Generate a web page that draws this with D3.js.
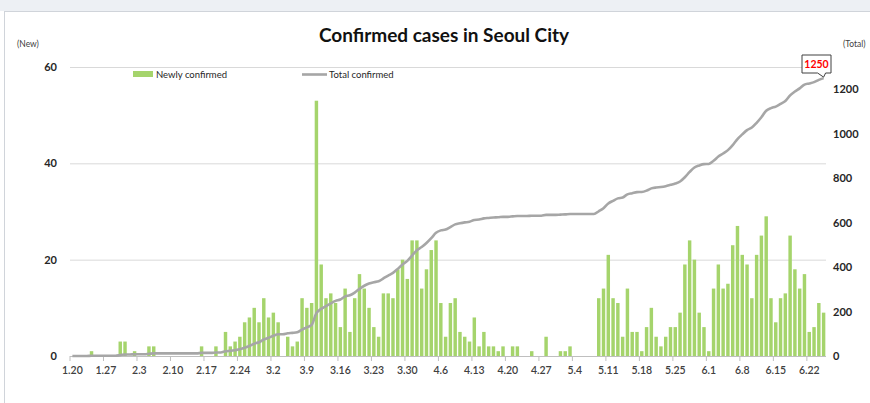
<!DOCTYPE html>
<html>
<head>
<meta charset="utf-8">
<script src="https://cdnjs.cloudflare.com/ajax/libs/d3/7.8.5/d3.min.js"></script>
<style>
  body { margin: 0; background: #fff; }
  svg text { font-family: Lato, "Liberation Sans", sans-serif; }
</style>
</head>
<body>
<div class="visHolder"></div>
<script>
// daily new cases, 1.20 .. 6.25 (one value per day)
var newCases = [
  0, 0, 0, 0, 1, 0, 0, 0, 0, 0,
  3, 3, 0, 1, 0, 0, 2, 2, 0, 0,
  0, 0, 0, 0, 0, 0, 0, 2, 0, 0,
  2, 0, 5, 2, 3, 4, 7, 8, 10, 7,
  12, 8, 9, 7, 0, 4, 2, 3, 12, 10,
  11, 53, 19, 12, 13, 11, 6, 14, 5, 12,
  17, 14, 10, 6, 4, 13, 13, 12, 18, 20,
  16, 24, 24, 14, 18, 22, 24, 11, 4, 11,
  12, 5, 4, 3, 8, 2, 5, 2, 2, 1,
  2, 0, 2, 2, 0, 0, 1, 0, 0, 4,
  0, 0, 1, 1, 2, 0, 0, 0, 0, 0,
  12, 14, 21, 12, 11, 4, 14, 5, 5, 1,
  6, 10, 4, 2, 4, 6, 6, 9, 19, 24,
  20, 9, 6, 1, 14, 19, 14, 15, 23, 27,
  21, 19, 12, 21, 25, 29, 12, 7, 12, 13,
  25, 18, 14, 17, 5, 6, 11, 9
];

// total confirmed
var totalCases = [
  0, 0, 0, 0, 1, 1, 1, 1, 1, 1,
  4, 7, 7, 8, 8, 8, 10, 12, 12, 12,
  12, 12, 12, 12, 12, 12, 12, 14, 14, 14,
  16, 16, 21, 23, 26, 30, 37, 45, 55, 62,
  74, 82, 91, 98, 98, 102, 104, 107, 119, 129,
  140, 193, 212, 224, 237, 248, 254, 268, 273, 285,
  302, 316, 326, 332, 336, 349, 362, 374, 392, 412,
  428, 452, 476, 490, 508, 530, 554, 565, 569, 580,
  592, 597, 601, 604, 612, 614, 619, 621, 623, 624,
  626, 626, 628, 630, 630, 630, 631, 631, 631, 635,
  635, 635, 636, 637, 639, 639, 639, 639, 639, 639,
  651, 665, 686, 698, 709, 713, 727, 732, 737, 738,
  744, 754, 758, 760, 764, 770, 776, 785, 804, 828,
  848, 857, 863, 864, 878, 897, 911, 926, 949, 976,
  997, 1016, 1028, 1049, 1074, 1103, 1115, 1122, 1134, 1147,
  1172, 1190, 1204, 1221, 1226, 1232, 1242, 1250
];

var tickLabels = ['1.20', '1.27', '2.3', '2.10', '2.17', '2.24', '3.2', '3.9', '3.16', '3.23',
  '3.30', '4.6', '4.13', '4.20', '4.27', '5.4', '5.11', '5.18', '5.25', '6.1', '6.8', '6.15', '6.22'];
var leftTicks = [0, 20, 40, 60];
var rightTicks = [0, 200, 400, 600, 800, 1000, 1200];

var days = d3.timeDay.range(new Date(2020, 0, 20), new Date(2020, 5, 26));
var fmt = function (d) { return (d.getMonth() + 1) + '.' + d.getDate(); };
var categories = days.map(fmt);

var width = 870,
    height = 403,
    plotLeft = 70,
    plotRight = 826,
    plotTop = 67,
    plotBottom = 356;

var svg = d3.select('.visHolder')
    .append('svg')
    .attr('width', width)
    .attr('height', height);

// window frame like the screenshot
svg.append('rect').attr('x', 0).attr('y', 0).attr('width', width).attr('height', 11).attr('fill', '#edf0f4');
svg.append('rect').attr('x', 4.5).attr('y', 11.5).attr('width', width).attr('height', height)
    .attr('fill', '#fff').attr('stroke', '#d0d4da');

var x = d3.scaleBand()
    .domain(categories)
    .range([plotLeft, plotRight])
    .paddingInner(0.28)
    .paddingOuter(0.14);

var yLeft = d3.scaleLinear().domain([0, 60]).range([plotBottom, plotTop]);
var yRight = d3.scaleLinear().domain([0, 1300]).range([plotBottom, plotTop]);

// gridlines
svg.append('g')
    .selectAll('line')
    .data(leftTicks.slice(1))
    .enter()
    .append('line')
    .attr('x1', plotLeft)
    .attr('x2', plotRight)
    .attr('y1', function (d) { return yLeft(d) + 0.5; })
    .attr('y2', function (d) { return yLeft(d) + 0.5; })
    .attr('stroke', '#d9d9d9');

// bars
svg.append('g')
    .selectAll('rect')
    .data(newCases)
    .enter()
    .append('rect')
    .attr('x', function (d, i) { return x(categories[i]); })
    .attr('y', function (d) { return yLeft(d); })
    .attr('width', x.bandwidth())
    .attr('height', function (d) { return plotBottom - yLeft(d); })
    .attr('fill', '#a5d46c');

// baseline + category axis
var xAxis = d3.axisBottom(x).tickValues(tickLabels).tickSize(0).tickPadding(11);
var gx = svg.append('g')
    .attr('transform', 'translate(0,' + plotBottom + ')')
    .call(xAxis);
gx.select('.domain').attr('stroke', '#bfbfbf').attr('d', 'M' + plotLeft + ',0.5H' + plotRight);
gx.selectAll('text').attr('font-size', 10.5).attr('fill', '#404040').attr('font-weight', 600);
gx.selectAll('.tick')
    .append('line')
    .attr('x1', -x.step() / 2).attr('x2', -x.step() / 2)
    .attr('y1', 0).attr('y2', 5)
    .attr('stroke', '#bfbfbf');

// total line
var line = d3.line()
    .x(function (d, i) { return x(categories[i]) + x.bandwidth() / 2; })
    .y(function (d) { return yRight(d); })
    .curve(d3.curveMonotoneX);

svg.append('path')
    .datum(totalCases)
    .attr('d', line)
    .attr('fill', 'none')
    .attr('stroke', '#a6a6a6')
    .attr('stroke-width', 2.6);

// axes
var gl = svg.append('g')
    .attr('transform', 'translate(57,0)')
    .call(d3.axisLeft(yLeft).tickValues(leftTicks).tickSize(0).tickPadding(0));
gl.select('.domain').remove();
gl.selectAll('text').attr('font-size', 11).attr('font-weight', 'bold').attr('fill', '#262626');

var gr = svg.append('g')
    .attr('transform', 'translate(833,0)')
    .call(d3.axisRight(yRight).tickValues(rightTicks).tickFormat(d3.format('d')).tickSize(0).tickPadding(0));
gr.select('.domain').remove();
gr.selectAll('text').attr('font-size', 11).attr('font-weight', 'bold').attr('fill', '#262626');

svg.append('text').attr('x', 17).attr('y', 47).attr('font-size', 8.5).attr('fill', '#404040').text('(New)');
svg.append('text').attr('x', 843).attr('y', 47).attr('font-size', 8.5).attr('fill', '#404040').text('(Total)');

// title
svg.append('text')
    .attr('x', 444)
    .attr('y', 42)
    .attr('text-anchor', 'middle')
    .attr('font-size', 19)
    .attr('font-weight', 'bold')
    .attr('fill', '#111')
    .text('Confirmed cases in Seoul City');

// legend
svg.append('rect').attr('x', 133).attr('y', 71).attr('width', 20).attr('height', 6).attr('fill', '#a5d46c');
svg.append('text').attr('x', 156).attr('y', 78).attr('font-size', 9.5).attr('fill', '#262626').text('Newly confirmed');
svg.append('line').attr('x1', 302).attr('x2', 327).attr('y1', 74.5).attr('y2', 74.5)
    .attr('stroke', '#a6a6a6').attr('stroke-width', 2.6);
svg.append('text').attr('x', 329).attr('y', 78).attr('font-size', 9.5).attr('fill', '#262626').text('Total confirmed');

// callout on last point
var last = totalCases.length - 1;
var px = x(categories[last]) + x.bandwidth() / 2,
    py = yRight(totalCases[last]);
var bx = 802, by = 55, bw = 29, bh = 18;
svg.append('path')
    .attr('d', 'M' + bx + ',' + by + 'H' + (bx + bw) + 'V' + (by + bh) + 'H' + (px + 2) +
        'L' + px + ',' + (py - 1) + 'L' + (px - 6) + ',' + (by + bh) + 'H' + bx + 'Z')
    .attr('fill', '#fff')
    .attr('stroke', '#404040')
    .attr('stroke-width', 1);
svg.append('text')
    .attr('x', bx + bw / 2)
    .attr('y', by + 13)
    .attr('text-anchor', 'middle')
    .attr('font-size', 10.5)
    .attr('font-weight', 'bold')
    .attr('fill', '#ff0000')
    .text(totalCases[last]);
</script>
</body>
</html>
